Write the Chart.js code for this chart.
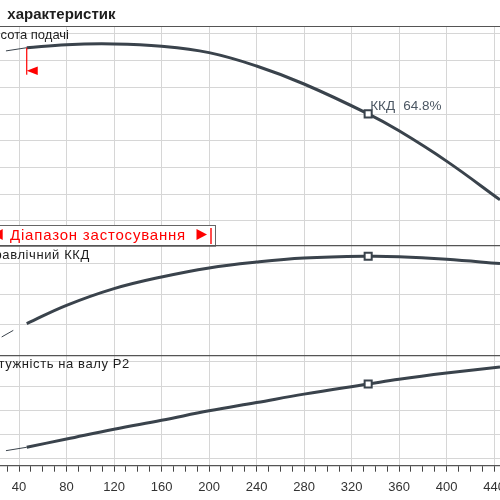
<!DOCTYPE html>
<html>
<head>
<meta charset="utf-8">
<script src="https://cdn.jsdelivr.net/npm/chart.js@4.4.1/dist/chart.umd.min.js"></script>
<style>
html,body{margin:0;padding:0;background:#fff;overflow:hidden}
#wrap{position:relative;width:500px;height:500px}
</style>
</head>
<body>
<div id="wrap"><canvas id="c"></canvas></div>
<script>
// ---- data ----
const titleText = 'характеристик';
const panelLabels = ['Висота подачі', 'Гідравлічний ККД', 'Потужність на валу P2'];
const rangeText = 'Діапазон застосування';

const xTickValues = [30,40,50,60,70,80,90,100,110,120,130,140,150,160,170,180,190,200,210,220,230,240,250,260,270,280,290,300,310,320,330,340,350,360,370,380,390,400,410,420,430,440];
const xLabelValues = [40,80,120,160,200,240,280,320,360,400,440];

// Head (panel 1)
const qHead = [46.5, 80, 120, 160, 200, 240, 280, 334, 360, 400, 445];
const hHead = [16.97, 17.2, 17.25, 17.08, 16.6, 15.6, 14.25, 12.01, 10.74, 8.47, 5.57];
const qHeadThin = [29, 46.5];
const hHeadThin = [16.73, 16.97];

// Efficiency (panel 2)
const qEff = [46.5, 80, 120, 160, 200, 240, 280, 334, 360, 400, 445];
const eEff = [20.9, 32.8, 43.7, 51.3, 57.2, 61.0, 63.6, 64.8, 64.5, 62.8, 60.0];
const qEffThin = [25.4, 35.2];
const eEffThin = [12.2, 16.5];

// Power P2 (panel 3)
const qPow = [46.5, 80, 120, 160, 200, 240, 280, 334, 360, 400, 445];
const pPow = [12.41, 14.1, 16.13, 17.95, 19.9, 21.6, 23.33, 25.4, 26.4, 27.67, 28.92];
const qPowThin = [29, 46.5];
const pPowThin = [11.71, 12.41];

// Duty point
const dutyQ = 334;
const dutyH = 12.01;
const dutyEff = 64.8;
const dutyP = 25.4;

// Range start
const rangeStartQ = 46.5;
const rangeStartH = 16.97;

// Axis ranges / grid values
const xRange = [24, 445];
const hRange = [2.13, 18.56];
const hGrid = [4, 6, 8, 10, 12, 14, 16, 18];
const effRange = [0, 71.66];
const effGrid = [20, 40, 60];
const pRange = [8.62, 31.23];
const pGrid = [10, 15, 20, 25, 30];

// ---- build ----
const pts = (xs, ys) => xs.map((v, i) => ({x: v, y: ys[i]}));
const CURVE = '#3a434c';
const GRID = '#d6d6d6';
const FONT = '"Liberation Sans", Arial, "DejaVu Sans", sans-serif';

function thick(data, axis) {
  return {type: 'line', data, yAxisID: axis, borderColor: CURVE, borderWidth: 3, order: 1,
    pointRadius: 0, tension: 0.4, fill: false, borderCapStyle: 'butt'};
}
function thin(data, axis) {
  return {type: 'line', data, yAxisID: axis, borderColor: CURVE, borderWidth: 1, order: 2,
    pointRadius: 0, tension: 0, fill: false};
}
function marker(data, axis) {
  return {type: 'line', data, yAxisID: axis, showLine: false, pointStyle: 'rect', order: 0,
    pointRadius: 5, pointBorderWidth: 2, pointBorderColor: CURVE, pointBackgroundColor: '#fff'};
}

function yAxis(range, grid, weight, stackWeight) {
  return {
    type: 'linear', position: 'left', stack: 'panels', stackWeight, weight,
    min: range[0], max: range[1],
    afterBuildTicks: (ax) => { ax.ticks = grid.map(v => ({value: v})); },
    afterFit: (ax) => { ax.width = 0; ax.paddingTop = 0; ax.paddingBottom = 0; },
    ticks: {display: false},
    grid: {color: GRID, lineWidth: 1, drawTicks: false},
    border: {display: false}
  };
}

const overlay = {
  id: 'overlay',
  afterDraw(chart) {
    const {ctx, chartArea: a, scales} = chart;
    const x = scales.x, yH = scales.yH, yE = scales.yE, yP = scales.yP;
    ctx.save();

    // title
    ctx.fillStyle = '#1e1e1e';
    ctx.font = 'bold 15px ' + FONT;
    ctx.textAlign = 'left';
    ctx.textBaseline = 'alphabetic';
    ctx.fillText(titleText, 7.3, 18.5);

    // range box (ends on panel 1 bottom)
    const boxTop = yE.top - 20.7, boxRight = 216;
    ctx.fillStyle = '#fff';
    ctx.fillRect(-5, boxTop, boxRight + 5, yE.top - boxTop);
    ctx.strokeStyle = '#666';
    ctx.lineWidth = 1;
    ctx.strokeRect(-5, boxTop + 0.5, boxRight + 5 - 0.5, yE.top - boxTop);
    ctx.fillStyle = '#ff0000';
    ctx.font = '15px ' + FONT;
    ctx.letterSpacing = '0.8px';
    ctx.textAlign = 'left';
    ctx.fillText(rangeText, 10, yE.top - 6.2);
    ctx.letterSpacing = '0px';
    const cy = boxTop + 9.5;
    ctx.beginPath(); ctx.moveTo(-8, cy); ctx.lineTo(2.7, cy - 5.5); ctx.lineTo(2.7, cy + 5.5); ctx.closePath(); ctx.fill();
    ctx.beginPath(); ctx.moveTo(207, cy); ctx.lineTo(196.5, cy - 5.5); ctx.lineTo(196.5, cy + 5.5); ctx.closePath(); ctx.fill();
    ctx.fillRect(210.3, boxTop + 3, 1.4, 16);

    // panel borders
    ctx.strokeStyle = '#555';
    ctx.lineWidth = 1.2;
    [yH.top, yE.top, yP.top].forEach(yy => {
      ctx.beginPath(); ctx.moveTo(a.left - 5, yy); ctx.lineTo(a.right + 5, yy); ctx.stroke();
    });

    // panel labels
    ctx.fillStyle = '#1e1e1e';
    ctx.font = '13px ' + FONT;
    ctx.textAlign = 'right';
    ctx.fillText(panelLabels[0], 69, yH.top + 12.5);
    ctx.letterSpacing = '0.6px';
    ctx.fillText(panelLabels[1], 89.9, yE.top + 13.6);
    ctx.fillText(panelLabels[2], 129.9, yP.top + 12.6);
    ctx.letterSpacing = '0px';

    // range start marker (red)
    const rx = x.getPixelForValue(rangeStartQ);
    const ry = yH.getPixelForValue(rangeStartH);
    ctx.fillStyle = '#ff0000';
    ctx.fillRect(rx - 0.6, ry, 1.2, 27);
    ctx.beginPath(); ctx.moveTo(rx, ry + 23); ctx.lineTo(rx + 11, ry + 18.8); ctx.lineTo(rx + 11, ry + 27.2); ctx.closePath(); ctx.fill();

    // duty point label
    const dx = x.getPixelForValue(dutyQ);
    const dy = yH.getPixelForValue(dutyH);
    ctx.fillStyle = '#4c5763';
    ctx.font = '13.5px ' + FONT;
    ctx.textAlign = 'left';
    ctx.fillText('ККД', dx + 2, dy - 4.3);
    ctx.fillText(dutyEff.toFixed(1) + '%', dx + 35, dy - 4.3);

    ctx.restore();
  }
};

new Chart(document.getElementById('c'), {
  data: {
    datasets: [
      thin(pts(qHeadThin, hHeadThin), 'yH'),
      thick(pts(qHead, hHead), 'yH'),
      marker([{x: dutyQ, y: dutyH}], 'yH'),
      thin(pts(qEffThin, eEffThin), 'yE'),
      thick(pts(qEff, eEff), 'yE'),
      marker([{x: dutyQ, y: dutyEff}], 'yE'),
      thin(pts(qPowThin, pPowThin), 'yP'),
      thick(pts(qPow, pPow), 'yP'),
      marker([{x: dutyQ, y: dutyP}], 'yP')
    ]
  },
  options: {
    responsive: true,
    maintainAspectRatio: false,
    animation: false,
    layout: {autoPadding: false, padding: {top: 26.5, left: 0, right: 0, bottom: 0}},
    plugins: {legend: {display: false}, tooltip: {enabled: false}, title: {display: false}},
    scales: {
      x: {
        type: 'linear', position: 'bottom',
        min: xRange[0], max: xRange[1],
        afterBuildTicks: (ax) => { ax.ticks = xTickValues.map(v => ({value: v})); },
        afterFit: (ax) => { ax.height = 34.3; ax.paddingLeft = 0; ax.paddingRight = 0; },
        ticks: {
          autoSkip: false, maxRotation: 0, padding: 8,
          color: '#333', font: {family: FONT, size: 13},
          callback: (v) => xLabelValues.includes(v) ? String(v) : ''
        },
        grid: {
          color: (c) => (c.tick && xLabelValues.includes(c.tick.value)) ? GRID : 'rgba(0,0,0,0)',
          tickColor: '#444', tickLength: 6, lineWidth: 1
        },
        border: {display: true, color: '#555', width: 1.2}
      },
      yH: yAxis(hRange, hGrid, 3, 219.2),
      yE: yAxis(effRange, effGrid, 2, 110),
      yP: yAxis(pRange, pGrid, 1, 110)
    }
  },
  plugins: [overlay]
});
</script>
</body>
</html>
